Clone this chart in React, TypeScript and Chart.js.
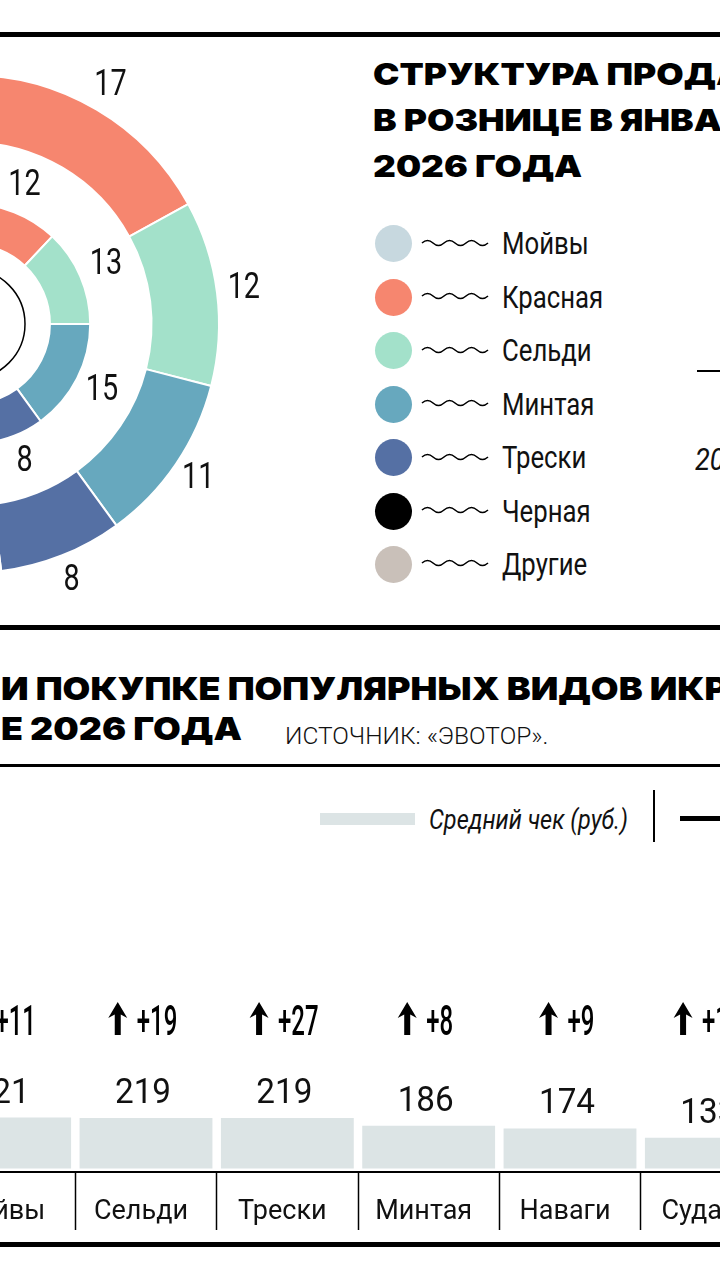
import React, { useEffect, useRef } from "react";
import { Chart, registerables } from "chart.js";

Chart.register(...registerables);

// ---- Donut: retail caviar sales structure, % (outer ring / inner ring)
const ringLabels = ["Красная", "Сельди", "Минтая", "Трески", "Черная", "Другие", "Мойвы"];
const ringColors = ["#F6866F", "#A3E1CA", "#67A8BE", "#5570A4", "#000000", "#C9C0B9", "#C7D8DF"];
const outerShares = [17, 12, 11, 8, 3, 9, 40];
const innerShares = [12, 13, 15, 8, 4, 10, 38];

const legendNames = ["Мойвы", "Красная", "Сельди", "Минтая", "Трески", "Черная", "Другие"];
const legendColors = ["#C7D8DF", "#F6866F", "#A3E1CA", "#67A8BE", "#5570A4", "#000000", "#C9C0B9"];

// ---- Bars: average check (rub.) and its growth
const barCategories = ["Мойвы", "Сельди", "Трески", "Минтая", "Наваги", "Судака"];
const avgCheck = [221, 219, 219, 186, 174, 133];
const checkGrowth = [11, 19, 27, 8, 9, 12];

const titleLines = ["СТРУКТУРА ПРОДАЖ ИКРЫ", "В РОЗНИЦЕ В ЯНВАРЕ", "2026 ГОДА"];
const title2Lines = ["И ПОКУПКЕ ПОПУЛЯРНЫХ ВИДОВ ИКРЫ", "Е 2026 ГОДА"];

const donutLabelPlugin = {
  id: "donutLabels",
  afterDraw(chart: any) {
    const ctx = chart.ctx;
    const first = chart.getDatasetMeta(0).data[0];
    const cx = first.x, cy = first.y;
    ctx.save();
    ctx.beginPath();
    ctx.arc(cx, cy, 55, 0, Math.PI * 2);
    ctx.lineWidth = 1.5;
    ctx.strokeStyle = "#000";
    ctx.stroke();
    ctx.restore();
    const rings: [number, number][] = [[0, 27], [2, 28]];
    rings.forEach(([di, off]) => {
      const meta = chart.getDatasetMeta(di);
      const vals = chart.data.datasets[di].data;
      meta.data.forEach((el: any, i: number) => {
        const p = el.getProps(["startAngle", "endAngle", "outerRadius"], true);
        const mid = (p.startAngle + p.endAngle) / 2;
        const r = p.outerRadius + off;
        const px = cx + Math.cos(mid) * r;
        const py = cy + Math.sin(mid) * r;
        ctx.save();
        ctx.translate(px, py);
        ctx.scale(0.8, 1);
        ctx.font = "36px Roboto";
        ctx.fillStyle = "#111";
        ctx.textAlign = "center";
        ctx.textBaseline = "middle";
        ctx.fillText(String(vals[i]), 0, 0);
        ctx.restore();
      });
    });
  },
};

const barLabelPlugin = {
  id: "barLabels",
  afterDatasetsDraw(chart: any) {
    const ctx = chart.ctx;
    const area = chart.chartArea;
    const meta = chart.getDatasetMeta(0);
    meta.data.forEach((bar: any, i: number) => {
      const cxp = bar.x - 3;
      // value label
      ctx.save();
      ctx.fillStyle = "#111";
      ctx.font = "35px Roboto";
      ctx.textAlign = "center";
      ctx.textBaseline = "alphabetic";
      ctx.translate(cxp, bar.y - 15);
      ctx.scale(0.95, 1);
      ctx.fillText(String(avgCheck[i]), 0, 0);
      ctx.restore();
      // growth row
      const txt = "+" + checkGrowth[i];
      ctx.save();
      ctx.font = "500 42px Roboto";
      const tw = ctx.measureText(txt).width * 0.57;
      const aw = 18, gap = 10;
      const left = cxp - (aw + gap + tw) / 2;
      const top = area.top + 42, bottom = area.top + 75;
      const ax = left + aw / 2;
      ctx.fillStyle = "#000";
      ctx.beginPath();
      ctx.moveTo(ax, top);
      ctx.lineTo(ax + 9.5, top + 16);
      ctx.lineTo(ax + 3, top + 12.5);
      ctx.lineTo(ax + 3, bottom);
      ctx.lineTo(ax - 3, bottom);
      ctx.lineTo(ax - 3, top + 12.5);
      ctx.lineTo(ax - 9.5, top + 16);
      ctx.closePath();
      ctx.fill();
      ctx.translate(left + aw + gap, bottom);
      ctx.scale(0.57, 1);
      ctx.textAlign = "left";
      ctx.textBaseline = "alphabetic";
      ctx.fillText(txt, 0, 0);
      ctx.restore();
    });
  },
};

const abs = (s: any) => ({ position: "absolute" as const, ...s });

export default function App() {
  const donutRef = useRef<HTMLCanvasElement>(null);
  const barRef = useRef<HTMLCanvasElement>(null);

  useEffect(() => {
    const donut = new Chart(donutRef.current!, {
      type: "doughnut",
      data: {
        labels: ringLabels,
        datasets: [
          { data: outerShares, backgroundColor: ringColors, borderColor: "#fff", borderWidth: 2, weight: 67 } as any,
          { data: [1], backgroundColor: "rgba(0,0,0,0)", borderWidth: 0, weight: 61 } as any,
          { data: innerShares, backgroundColor: ringColors, borderColor: "#fff", borderWidth: 2, weight: 40 } as any,
        ],
      },
      options: {
        animation: false,
        responsive: false,
        events: [],
        radius: 249,
        cutout: "32.1%",
        layout: { padding: 0 },
        plugins: { legend: { display: false }, tooltip: { enabled: false } },
      } as any,
      plugins: [donutLabelPlugin],
    });

    const bars = new Chart(barRef.current!, {
      type: "bar",
      data: {
        labels: barCategories,
        datasets: [
          {
            data: avgCheck,
            backgroundColor: "#DCE4E5",
            barPercentage: 0.94,
            categoryPercentage: 1,
          },
        ],
      },
      options: {
        animation: false,
        responsive: false,
        events: [],
        layout: { padding: 0 },
        plugins: { legend: { display: false }, tooltip: { enabled: false } },
        scales: {
          x: {
            grid: {
              drawOnChartArea: false,
              drawTicks: true,
              tickLength: 58,
              tickColor: "#000",
              tickWidth: 1.5,
              offset: true,
            },
            border: { display: true, color: "#000", width: 2 },
            ticks: {
              font: { family: "Roboto", size: 27 },
              color: "#111",
              padding: -34,
              labelOffset: -5,
              maxRotation: 0,
              autoSkip: false,
            },
            afterFit: (s: any) => {
              s.height = 78;
            },
          },
          y: { display: false, min: -15, max: 904 },
        },
      } as any,
      plugins: [barLabelPlugin],
    });

    return () => {
      donut.destroy();
      bars.destroy();
    };
  }, []);

  const legendY = [243.5, 297, 350.5, 404, 457.5, 511, 564];

  return (
    <div
      style={{
        position: "absolute",
        left: 0,
        top: 0,
        width: 720,
        height: 1280,
        overflow: "hidden",
        background: "#fff",
        fontFamily: "Roboto, sans-serif",
        color: "#111",
      }}
    >
      {/* rules */}
      <div style={abs({ left: 0, top: 32, width: 720, height: 5, background: "#000" })} />
      <div style={abs({ left: 0, top: 625, width: 720, height: 5, background: "#000" })} />
      <div style={abs({ left: 0, top: 764, width: 720, height: 3, background: "#000" })} />
      <div style={abs({ left: 0, top: 1242, width: 720, height: 5, background: "#000" })} />

      <canvas ref={donutRef} width={640} height={640} style={abs({ left: -350, top: 4 })} />

      {/* title 1 */}
      {titleLines.map((t, i) => (
        <div
          key={t}
          style={abs({
            left: 373,
            top: 59 + i * 46,
            fontFamily: "Inter",
            fontWeight: 900,
            fontSize: 30,
            lineHeight: "30px",
            whiteSpace: "nowrap",
            color: "#000",
            transform: "scaleX(1.18)",
            transformOrigin: "left center",
          })}
        >
          {t}
        </div>
      ))}

      {/* donut legend */}
      {legendNames.map((n, i) => (
        <React.Fragment key={n}>
          <div
            style={abs({
              left: 375,
              top: legendY[i] - 18.5,
              width: 37,
              height: 37,
              borderRadius: "50%",
              background: legendColors[i],
            })}
          />
          <svg style={abs({ left: 421, top: legendY[i] - 6 })} width={70} height={12}>
            <path
              d="M1,5 q5.5,-5 11,0 t11,0 t11,0 t11,0 t11,0 t11,0"
              fill="none"
              stroke="#000"
              strokeWidth={1.6}
            />
          </svg>
          <div
            style={abs({
              left: 502,
              top: legendY[i] - 15.1,
              fontSize: 31,
              lineHeight: "31px",
              whiteSpace: "nowrap",
              transform: "scaleX(0.83)",
              transformOrigin: "left center",
            })}
          >
            {n}
          </div>
        </React.Fragment>
      ))}

      {/* partial right-hand elements */}
      <div style={abs({ left: 697, top: 370, width: 30, height: 1.6, background: "#000" })} />
      <div
        style={abs({
          left: 695,
          top: 443,
          fontSize: 32,
          lineHeight: "32px",
          fontStyle: "italic",
          whiteSpace: "nowrap",
          transform: "scaleX(0.85)",
          transformOrigin: "left center",
        })}
      >
        2025
      </div>

      {/* title 2 */}
      {title2Lines.map((t, i) => (
        <div
          key={t}
          style={abs({
            left: 1,
            top: 672.6 + i * 40,
            fontFamily: "Inter",
            fontWeight: 900,
            fontSize: 32,
            lineHeight: "32px",
            whiteSpace: "nowrap",
            color: "#000",
            transform: "scaleX(1.12)",
            transformOrigin: "left center",
          })}
        >
          {t}
        </div>
      ))}
      <div
        style={abs({
          left: 285,
          top: 723.8,
          fontSize: 24.5,
          lineHeight: "24.5px",
          fontWeight: 300,
          whiteSpace: "nowrap",
        })}
      >
        ИСТОЧНИК: «ЭВОТОР».
      </div>

      {/* bar legend */}
      <div style={abs({ left: 320, top: 813, width: 95, height: 12, background: "#DCE4E5" })} />
      <div
        style={abs({
          left: 429,
          top: 806.5,
          fontSize: 27,
          lineHeight: "27px",
          fontStyle: "italic",
          whiteSpace: "nowrap",
          transform: "scaleX(0.87)",
          transformOrigin: "left center",
        })}
      >
        Средний чек (руб.)
      </div>
      <div style={abs({ left: 653, top: 790, width: 2, height: 52, background: "#000" })} />
      <div style={abs({ left: 680, top: 816, width: 60, height: 5, background: "#000" })} />

      <canvas ref={barRef} width={848} height={290} style={abs({ left: -66, top: 960 })} />
    </div>
  );
}
